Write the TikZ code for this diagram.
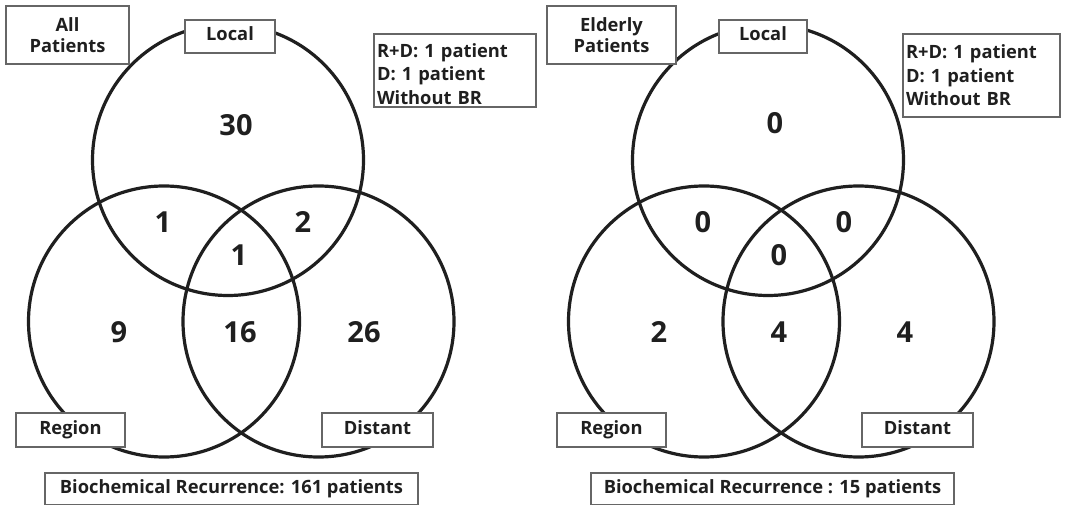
\documentclass[tikz,border=0pt]{standalone}
\usepackage{fontspec}
\setmainfont{Open Sans}
\begin{document}
\begin{tikzpicture}[x=1pt,y=-1pt,
  ring/.style={draw=black!88, line width=3.2pt, circle, minimum size=271pt, inner sep=0pt},
  tag/.style={draw=black!60, line width=1.1pt, fill=white, inner sep=0pt,
    font=\fontsize{18.3}{23.5}\selectfont\bfseries, text=black!88},
  oneline/.style={text height=13pt, text depth=4pt},
  count/.style={font=\fontsize{29}{32}\selectfont\bfseries, text=black!88, inner sep=0pt}]
\useasboundingbox (0,0) rectangle (1080,505);
\fill[white] (0,0) rectangle (1080,505);

% ---------- all patients ----------
\node[ring] (locA) at (228,160) {};
\node[ring] (regA) at (164,321.5) {};
\node[ring] (disA) at (318.5,321.5) {};

\node[tag, align=center, minimum width=123pt, minimum height=58pt] (titleA) at (67.5,35) {All\\[-2pt]Patients};
\node[tag, oneline, minimum width=90pt, minimum height=33pt] (locTagA) at (230,36.5) {Local};
% the note sits a little low in its frame: a tall strut on the first line
\node[tag, align=left, minimum width=162pt, minimum height=73pt, text width=156pt] (noteA) at (455,70.5) {\rule{0pt}{21pt}R+D: 1 patient\\D: 1 patient\\Without BR};
\node[tag, oneline, minimum width=109pt, minimum height=34pt] (regTagA) at (70.5,430) {Region};
\node[tag, oneline, minimum width=111pt, minimum height=34pt] (disTagA) at (377.5,430) {Distant};
\node[tag, oneline, minimum width=373pt, minimum height=32pt] (brA) at (231.5,489) {Biochemical Recurrence: 161 patients};

\node[count] (nL) at (236,125) {30};
\node[count] (nLR) at (163,222) {1};
\node[count] (nLD) at (303,222) {2};
\node[count] (nLRD) at (239,255) {1};
\node[count] (nR) at (119,332) {9};
\node[count] (nRD) at (240,332) {16};
\node[count] (nD) at (364,332) {26};

% ---------- elderly patients ----------
\node[ring] (locB) at (768,160) {};
\node[ring] (regB) at (704,321.5) {};
\node[ring] (disB) at (858.5,321.5) {};

\node[tag, align=center, minimum width=129pt, minimum height=58pt] (titleB) at (611.5,35) {Elderly\\[-2pt]Patients};
\node[tag, oneline, minimum width=88pt, minimum height=33pt] (locTagB) at (763,36.5) {Local};
\node[tag, align=left, minimum width=157pt, minimum height=83pt, text width=151pt] (noteB) at (981.5,75.5) {R+D: 1 patient\\D: 1 patient\\Without BR};
\node[tag, oneline, minimum width=109pt, minimum height=34pt] (regTagB) at (611.5,430) {Region};
\node[tag, oneline, minimum width=111pt, minimum height=34pt] (disTagB) at (917.5,430) {Distant};
\node[tag, oneline, minimum width=363pt, minimum height=32pt] (brB) at (772.5,489) {Biochemical Recurrence : 15 patients};

\node[count] (mL) at (775,123) {0};
\node[count] (mLR) at (703,222) {0};
\node[count] (mLD) at (844,222) {0};
\node[count] (mLRD) at (779,255) {0};
\node[count] (mR) at (659,332) {2};
\node[count] (mRD) at (779,332) {4};
\node[count] (mD) at (905,332) {4};
\end{tikzpicture}
\end{document}
